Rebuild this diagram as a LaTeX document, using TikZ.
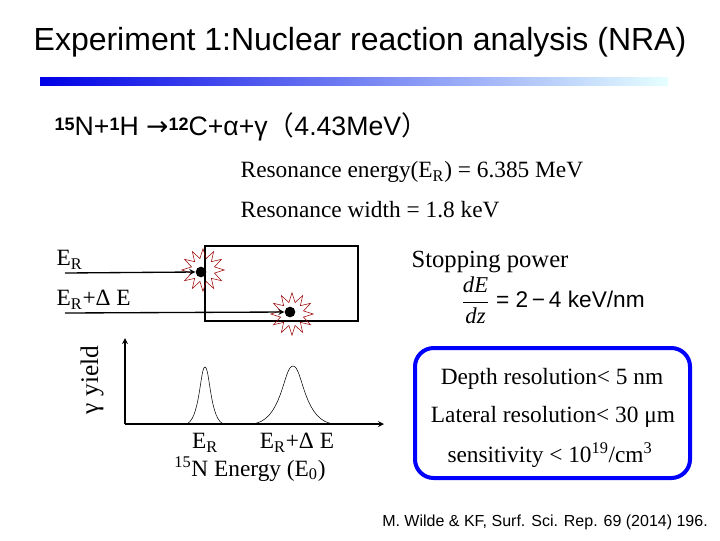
\documentclass[tikz,border=0pt]{standalone}
\usepackage{fontspec}
\usetikzlibrary{shapes.geometric}
\setmainfont{Liberation Serif}
\setsansfont{Liberation Sans}
\newfontfamily\djfont{DejaVu Sans}
\newfontfamily\cjkfont{Noto Sans CJK JP}
\begin{document}
\begin{tikzpicture}[x=0.75pt,y=-0.75pt,
  ser/.style={font=\fontsize{17.5}{20}\selectfont},
  san/.style={font=\sffamily\fontsize{20}{23}\selectfont},
  arr/.style={->,>=stealth,line width=1pt},
  burst/.style={draw=red!60!black,thin,star,star points=12,star point ratio=1.8,minimum size=32},
  dot/.style={circle,fill=black,inner sep=0pt,minimum size=8pt}]
\useasboundingbox (0,0) rectangle (720,540);
\node[font=\sffamily\fontsize{24}{28}\selectfont] (title) at (360,42) {Experiment 1:Nuclear reaction analysis (NRA)};
\shade[left color=blue!90!black,right color=cyan!10] (40,77) rectangle (668,85);
\node[san,anchor=west] (rx) at (50,127) {\textbf{\fontsize{13.5}{14}\selectfont\raisebox{0.55ex}{15}}N+\textbf{\fontsize{13.5}{14}\selectfont\raisebox{0.55ex}{1}}H {\djfont →}\textbf{\fontsize{13.5}{14}\selectfont\raisebox{0.55ex}{12}}C+α+γ{\cjkfont （}4.43MeV{\cjkfont ）}};
\node[ser,anchor=west] (re) at (236,172) {Resonance energy(E\textsubscript{R}) = 6.385 MeV};
\node[ser,anchor=west] (rw) at (236,210) {Resonance width = 1.8 keV};
\draw[line width=1.5pt] (205,246) rectangle (358,321);
\node[burst] (b1) at (203,270) {};
\node[burst] (b2) at (292,314) {};
\node[dot] (d1) at (201,272) {};
\node[dot] (d2) at (290,312) {};
\coordinate (s1) at (65,273);
\coordinate (s2) at (65,313);
\draw[arr] (s1) -- (d1.west);
\draw[arr] (s2) -- (d2.west);
\node[ser,anchor=west] (l1) at (52,260) {E\textsubscript{R}};
\node[ser,anchor=west] (l2) at (52,300) {E\textsubscript{R}+Δ E};
\coordinate (o) at (125,424);
\coordinate (ytop) at (125,338);
\coordinate (xr) at (384,424);
\draw[arr] (o) -- (ytop);
\draw[arr] (o) -- (xr);
\draw[thin] (185,424) .. controls (200,424) and (200,367) .. (205,367) .. controls (210,367) and (210,424) .. (225,424);
\draw[thin] (250,424) .. controls (283,424) and (283,366) .. (293,366) .. controls (303,366) and (303,424) .. (336,424);
\node[ser] (e1) at (205,443) {E\textsubscript{R}};
\node[ser] (e2) at (297,443) {E\textsubscript{R}+Δ E};
\node[ser] (en) at (250,469) {\textsuperscript{15}N Energy (E\textsubscript{0})};
\node[ser,rotate=90,font=\fontsize{19}{22}\selectfont] (gy) at (92,380) {γ yield};
\node[ser,font=\fontsize{18.5}{22}\selectfont] (sp) at (490,262) {Stopping power};
\node[font=\sffamily\fontsize{17}{20}\selectfont] (fm) at (553,300) {$\displaystyle\frac{\mathit{dE}}{\mathit{dz}}$ = 2\,−\,4 keV/nm};
\draw[blue,line width=3pt,rounded corners=14pt] (415,348) rectangle (690,478);
\node[ser] (t1) at (552,379) {Depth resolution< 5 nm};
\node[ser] (t2) at (553,417) {Lateral resolution< 30 μm};
\node[ser] (t3) at (550,455) {sensitivity < 10\textsuperscript{19}/cm\textsuperscript{3}};
\node[font=\sffamily\fontsize{12}{14}\selectfont] (cit) at (545,522) {M. Wilde \& KF, Surf. Sci. Rep. 69 (2014) 196.};
\end{tikzpicture}
\end{document}
